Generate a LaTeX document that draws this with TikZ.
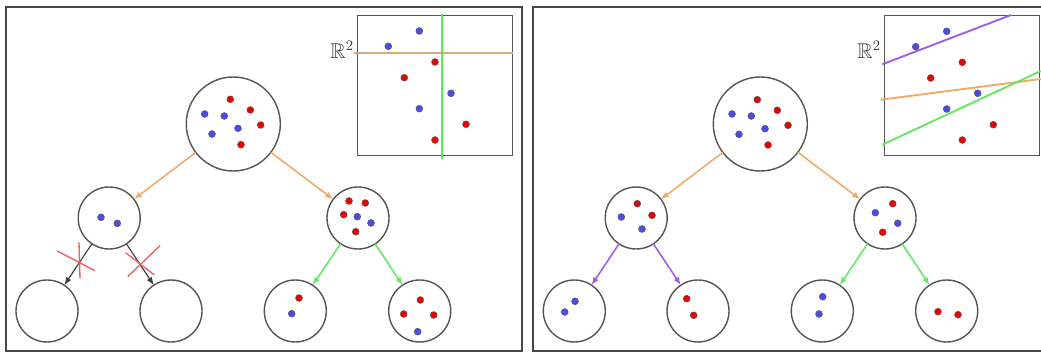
\documentclass[tikz,border=0pt]{standalone}
\usepackage{amssymb}
\usetikzlibrary{arrows.meta}
\definecolor{bluedot}{RGB}{75,75,235}
\definecolor{reddot}{RGB}{236,0,0}
\definecolor{orng}{RGB}{242,168,102}
\definecolor{tan}{RGB}{214,168,126}
\definecolor{grn}{RGB}{100,232,100}
\definecolor{brgrn}{RGB}{80,236,80}
\definecolor{purp}{RGB}{160,92,232}
\definecolor{xred}{RGB}{234,96,96}
\definecolor{edge}{RGB}{85,85,85}
\tikzset{
  bdot/.style={fill=bluedot,draw=black!65,line width=0.35pt},
  rdot/.style={fill=reddot,draw=black!65,line width=0.35pt},
  bignode/.style={circle,draw=edge,line width=1.05pt,inner sep=0pt,outer sep=0pt,minimum size=70.5pt},
  smallnode/.style={circle,draw=edge,line width=1.05pt,inner sep=0pt,outer sep=0pt,minimum size=46.5pt},
  arr/.style={line width=1.15pt,-{Latex[length=6pt,width=4.5pt]}},
  oarr/.style={arr,draw=orng,color=orng},
  garr/.style={arr,draw=grn,color=grn},
  parr/.style={arr,draw=purp,color=purp},
  karr/.style={line width=0.85pt,draw=black!75,color=black!75,-{Latex[length=6pt,width=4.5pt]}},
  xline/.style={draw=xred,line width=1pt},
  frame/.style={draw=black!72,line width=0.8pt},
  inset/.style={draw=edge,line width=1.1pt},
  lbl/.style={anchor=base east,inner sep=0pt,font=\fontsize{16}{18}\selectfont,text=black!75}
}
\begin{document}
\begin{tikzpicture}[x=0.75pt,y=-0.75pt]
\clip (0,0) rectangle (1041,352);
\fill[white] (0,0) rectangle (1041,352);
% panel frames
\draw[frame] (6,7) rectangle (522,351);
\draw[frame] (533,7) rectangle (1050,351);

% ================= LEFT PANEL =================
% inset
\draw[inset] (357.3,15.3) rectangle (512.7,155.3);
\draw[tan,line width=1.4pt] (354,52.7) -- (513,52.7);
\draw[brgrn,line width=1.4pt] (442.3,14) -- (442.3,159);
\node[lbl] (lR) at (354,59) {$\mathbb{R}^2$};
\foreach \p in {(419.3,31),(388.3,46.3),(451,93.3),(419.3,108.7)} \path[bdot] \p circle[radius=2.6pt];
\foreach \p in {(435,62),(404.3,77.7),(466,124.3),(435,140)} \path[rdot] \p circle[radius=2.6pt];

% tree
\node[bignode] (L0) at (233.3,124) {};
\node[smallnode] (L1) at (109.2,218) {};
\node[smallnode] (L2) at (358,218) {};
\node[smallnode] (L11) at (47,311) {};
\node[smallnode] (L12) at (171,311) {};
\node[smallnode] (L21) at (295.3,311) {};
\node[smallnode] (L22) at (419.7,311) {};
\draw[oarr] (L0) -- (L1);
\draw[oarr] (L0) -- (L2);
\draw[karr] (L1) -- (L11);
\draw[karr] (L1) -- (L12);
\draw[garr] (L2) -- (L21);
\draw[garr] (L2) -- (L22);
% crosses
\draw[xline] (79,242.3) -- (80,278.7);
\draw[xline] (57.3,251) -- (95,270.7);
\draw[xline] (125.7,252.7) -- (154.3,275);
\draw[xline] (160,245.7) -- (127.7,276.7);
% dots
\foreach \p in {(204.7,114),(224.3,116),(238,128.3),(212,134)} \path[bdot] \p circle[radius=2.6pt];
\foreach \p in {(230.3,99.3),(250.3,110),(260.7,125),(241,144.7)} \path[rdot] \p circle[radius=2.6pt];
\foreach \p in {(101,217.3),(117.3,223.3)} \path[bdot] \p circle[radius=2.6pt];
\foreach \p in {(357.3,216.7),(371,223)} \path[bdot] \p circle[radius=2.6pt];
\foreach \p in {(349,201),(365.3,203),(343.7,214.7),(355.7,231.7)} \path[rdot] \p circle[radius=2.6pt];
\path[rdot] (299,298) circle[radius=2.6pt];
\path[bdot] (291.7,313.7) circle[radius=2.6pt];
\foreach \p in {(420.3,300),(403.7,314),(433.7,315)} \path[rdot] \p circle[radius=2.6pt];
\path[bdot] (417.7,331.7) circle[radius=2.6pt];

% ================= RIGHT PANEL =================
\draw[inset] (884.7,15.3) rectangle (1039.3,155.3);
\draw[purp,line width=1.4pt] (882.3,64.3) -- (1011,15);
\draw[orng,line width=1.4pt] (881,99.7) -- (1040.7,79);
\draw[grn,line width=1.4pt] (882.3,144.7) -- (1040.7,71);
\node[lbl] (rR) at (881,59) {$\mathbb{R}^2$};
\foreach \p in {(946.7,31.3),(915.7,46.7),(977.7,93.3),(946.7,109)} \path[bdot] \p circle[radius=2.6pt];
\foreach \p in {(962.3,62.3),(930.7,78),(993.3,124.7),(962.3,140)} \path[rdot] \p circle[radius=2.6pt];

\node[bignode] (R0) at (760.3,124) {};
\node[smallnode] (R1) at (636.2,218) {};
\node[smallnode] (R2) at (885,218) {};
\node[smallnode] (R11) at (574.3,311) {};
\node[smallnode] (R12) at (698,311) {};
\node[smallnode] (R21) at (822.3,311) {};
\node[smallnode] (R22) at (946.7,311) {};
\draw[oarr] (R0) -- (R1);
\draw[oarr] (R0) -- (R2);
\draw[parr] (R1) -- (R11);
\draw[parr] (R1) -- (R12);
\draw[garr] (R2) -- (R21);
\draw[garr] (R2) -- (R22);
\foreach \p in {(732,114),(751.3,116),(765,128.7),(739,134.3)} \path[bdot] \p circle[radius=2.6pt];
\foreach \p in {(757.3,99.7),(777.3,110.3),(788,125.3),(768,145)} \path[rdot] \p circle[radius=2.6pt];
\foreach \p in {(621.3,217),(642,229)} \path[bdot] \p circle[radius=2.6pt];
\foreach \p in {(637.3,203.7),(652,215.3)} \path[rdot] \p circle[radius=2.6pt];
\foreach \p in {(875.3,212.7),(897.7,223.3)} \path[bdot] \p circle[radius=2.6pt];
\foreach \p in {(892.7,203.7),(882.7,232.3)} \path[rdot] \p circle[radius=2.6pt];
\foreach \p in {(575,301.3),(564.7,312)} \path[bdot] \p circle[radius=2.6pt];
\foreach \p in {(686.7,298.7),(693.7,315.3)} \path[rdot] \p circle[radius=2.6pt];
\foreach \p in {(822.7,296.7),(819,314)} \path[bdot] \p circle[radius=2.6pt];
\foreach \p in {(938,311.7),(958,314.7)} \path[rdot] \p circle[radius=2.6pt];
\end{tikzpicture}
\end{document}
